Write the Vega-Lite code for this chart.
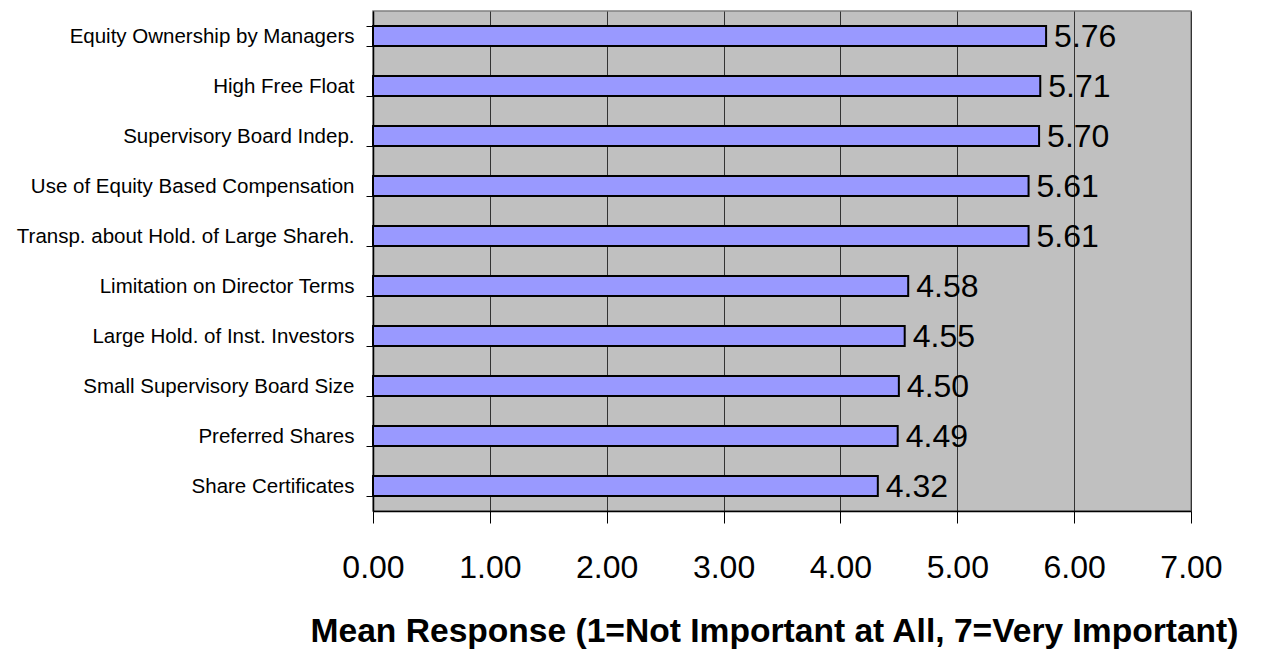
{
  "$schema": "https://vega.github.io/schema/vega-lite/v6.json",
  "width": 818,
  "height": 500,
  "autosize": {"type": "none"},
  "padding": {"left": 373, "top": 11, "right": 73, "bottom": 139},
  "background": "white",
  "config": {
    "font": "Liberation Sans",
    "view": {"fill": "#C0C0C0", "stroke": "#808080", "strokeWidth": 1.5}
  },
  "data": {
    "values": [
      {"item": "Equity Ownership by Managers", "mean": 5.76},
      {"item": "High Free Float", "mean": 5.71},
      {"item": "Supervisory Board Indep.", "mean": 5.70},
      {"item": "Use of Equity Based Compensation", "mean": 5.61},
      {"item": "Transp. about Hold. of Large Shareh.", "mean": 5.61},
      {"item": "Limitation on Director Terms", "mean": 4.58},
      {"item": "Large Hold. of Inst. Investors", "mean": 4.55},
      {"item": "Small Supervisory Board Size", "mean": 4.50},
      {"item": "Preferred Shares", "mean": 4.49},
      {"item": "Share Certificates", "mean": 4.32}
    ]
  },
  "encoding": {
    "y": {
      "field": "item",
      "type": "nominal",
      "sort": null,
      "scale": {"paddingInner": 0.6, "paddingOuter": 0.3},
      "axis": {
        "title": null,
        "domainColor": "black",
        "domainWidth": 1.5,
        "tickColor": "black",
        "tickSize": 7,
        "tickBand": "extent",
        "labelFontSize": 20.5,
        "labelColor": "black",
        "labelPadding": 12,
        "labelLimit": 400
      }
    }
  },
  "layer": [
    {
      "mark": {"type": "bar", "fill": "#9999FF", "stroke": "black", "strokeWidth": 2},
      "encoding": {
        "x": {
          "field": "mean",
          "type": "quantitative",
          "scale": {"domain": [0, 7], "nice": false},
          "axis": {
            "values": [0, 1, 2, 3, 4, 5, 6, 7],
            "format": ".2f",
            "grid": true,
            "gridColor": "#333333",
            "gridWidth": 1,
            "domainColor": "black",
            "domainWidth": 1.5,
            "tickColor": "black",
            "tickSize": 12,
            "labelFontSize": 32,
            "labelColor": "black",
            "labelPadding": 29,
            "labelFlush": false,
            "labelOverlap": false,
            "title": "Mean Response (1=Not Important at All, 7=Very Important)",
            "titleFontSize": 33.6,
            "titleFontWeight": "bold",
            "titleColor": "black",
            "titleAnchor": "end",
            "titleAlign": "right",
            "titleX": 865,
            "titleY": 130,
            "titleBaseline": "alphabetic"
          }
        }
      }
    },
    {
      "mark": {"type": "text", "align": "left", "baseline": "middle", "dx": 8, "dy": 1, "fontSize": 32, "color": "black"},
      "encoding": {
        "x": {"field": "mean", "type": "quantitative"},
        "text": {"field": "mean", "type": "quantitative", "format": ".2f"}
      }
    }
  ]
}
